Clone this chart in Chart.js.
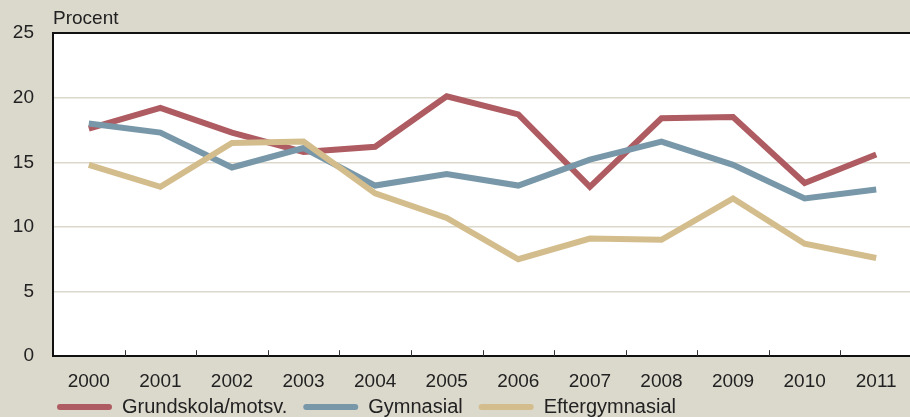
<!DOCTYPE html>
<html>
<head>
<meta charset="utf-8">
<script src="https://cdn.jsdelivr.net/npm/chart.js@4"></script>
<style>
  html, body { margin: 0; padding: 0; background: #dbd8cc; overflow: hidden; }
  #wrap { width: 912px; height: 417px; }
</style>
</head>
<body>
<div id="wrap"><canvas id="myChart" width="912" height="417"></canvas></div>
<script>
// years on the x axis
const years = ["2000", "2001", "2002", "2003", "2004", "2005", "2006", "2007", "2008", "2009", "2010", "2011"];

// values, percent
const grundskola = [17.6, 19.2, 17.3, 15.8, 16.2, 20.1, 18.7, 13.1, 18.4, 18.5, 13.4, 15.6];
const gymnasial = [18.0, 17.3, 14.6, 16.1, 13.2, 14.1, 13.2, 15.2, 16.6, 14.8, 12.2, 12.9];
const eftergymnasial = [14.8, 13.1, 16.5, 16.6, 12.6, 10.7, 7.5, 9.1, 9.0, 12.2, 8.7, 7.6];

const yTicks = [0, 5, 10, 15, 20, 25];

const fontFamily = "'Liberation Sans', Arial, sans-serif";

// page background + white plot area
const backgroundPlugin = {
  id: "backgroundPlugin",
  beforeDraw(chart) {
    const ctx = chart.ctx;
    const area = chart.chartArea;
    ctx.save();
    ctx.fillStyle = "#dbd8cc";
    ctx.fillRect(0, 0, chart.width, chart.height);
    ctx.fillStyle = "#ffffff";
    ctx.fillRect(area.left, area.top, area.right - area.left, area.bottom - area.top);
    ctx.restore();
  },
};

// small tick marks pointing up from the x axis, between the years
const innerTicksPlugin = {
  id: "innerTicksPlugin",
  afterDatasetsDraw(chart) {
    const ctx = chart.ctx;
    const x = chart.scales.x;
    const step = (x.right - x.left) / years.length;
    ctx.save();
    ctx.strokeStyle = "#333333";
    ctx.lineWidth = 1;
    for (let i = 1; i <= years.length; i++) {
      const px = Math.round(x.left + i * step) + 0.5;
      ctx.beginPath();
      ctx.moveTo(px, x.top);
      ctx.lineTo(px, x.top - 6);
      ctx.stroke();
    }
    ctx.restore();
  },
};

// "Procent" above the y axis
const unitLabelPlugin = {
  id: "unitLabelPlugin",
  afterDraw(chart) {
    const ctx = chart.ctx;
    ctx.save();
    ctx.font = "19px " + fontFamily;
    ctx.fillStyle = "#222222";
    ctx.textBaseline = "middle";
    ctx.textAlign = "left";
    ctx.fillText("Procent", chart.chartArea.left, 19);
    ctx.restore();
  },
};

// move the legend so it starts under the y axis and sits closer to the labels
const legendShiftPlugin = {
  id: "legendShiftPlugin",
  afterLayout(chart) {
    const lg = chart.legend;
    const h = lg.bottom - lg.top;
    lg.left = 41;
    lg.top = lg.top - 26;
    lg.bottom = lg.top + h;
  },
};

const ctx = document.getElementById("myChart");

function lineSet(label, data, color, order) {
  return {
    label: label,
    data: data,
    borderColor: color,
    backgroundColor: color,
    borderWidth: 6,
    pointRadius: 0,
    pointHoverRadius: 0,
    tension: 0,
    fill: false,
    order: order,
  };
}

let myChart = new Chart(ctx, {
  type: "line",
  data: {
    labels: years,
    datasets: [
      lineSet("Grundskola/motsv.", grundskola, "#ae5c62", 3),
      lineSet("Gymnasial", gymnasial, "#7898a9", 2),
      lineSet("Eftergymnasial", eftergymnasial, "#d4bd8d", 1),
    ],
  },
  options: {
    responsive: false,
    animation: false,
    layout: {
      padding: { top: 33, right: 0, bottom: -36, left: 0 },
    },
    scales: {
      x: {
        offset: true,
        grid: { display: false, drawTicks: false },
        border: { display: true, color: "#111111", width: 2 },
        ticks: {
          color: "#222222",
          font: { family: fontFamily, size: 19 },
          padding: 14,
          maxRotation: 0,
        },
      },
      y: {
        min: 0,
        max: 25,
        afterBuildTicks(scale) {
          scale.ticks = yTicks.map((v) => ({ value: v }));
        },
        afterFit(scale) {
          scale.width = 53;
        },
        grid: {
          drawTicks: false,
          color: (c) => (c.tick && c.tick.value === 25 ? "#111111" : "#dcd8cc"),
          lineWidth: (c) => (c.tick && c.tick.value === 25 ? 2 : 1.5),
        },
        border: { display: true, color: "#111111", width: 2 },
        ticks: {
          color: "#222222",
          font: { family: fontFamily, size: 19 },
          padding: 19,
        },
      },
    },
    plugins: {
      legend: {
        position: "bottom",
        align: "start",
        labels: {
          boxWidth: 55,
          boxHeight: 6,
          padding: 16,
          useBorderRadius: true,
          borderRadius: 3,
          color: "#222222",
          font: { family: fontFamily, size: 20 },
          sort: (a, b) => a.datasetIndex - b.datasetIndex,
          generateLabels(chart) {
            const base = Chart.defaults.plugins.legend.labels.generateLabels(chart);
            return base.map((item) => ({ ...item, lineWidth: 0 }));
          },
        },
      },
      tooltip: { enabled: false },
    },
  },
  plugins: [backgroundPlugin, innerTicksPlugin, unitLabelPlugin, legendShiftPlugin],
});
</script>
</body>
</html>
